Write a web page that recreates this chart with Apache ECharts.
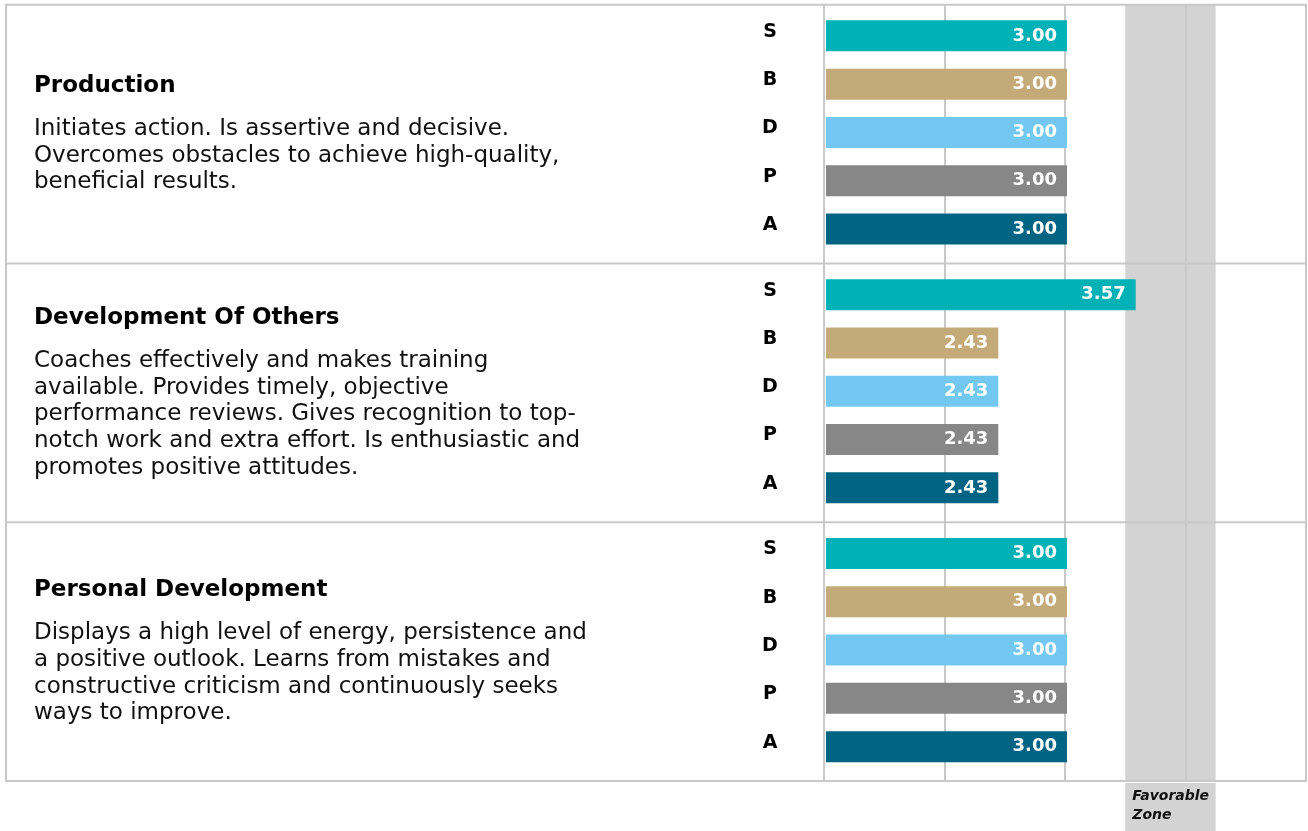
<!DOCTYPE html>
<html>
<head>
    <meta charset="utf-8">
    <title>Competency scores</title>
    <script src="https://cdn.jsdelivr.net/npm/echarts@6/dist/echarts.min.js"></script>
    <style>
        html, body { margin: 0; padding: 0; background: #fff; }
    </style>
</head>
<body>
<div id="main" style="width: 1308px;height:831px;"></div>

<script type="text/javascript">
    // values
    var categories = ['S', 'B', 'D', 'P', 'A'];
    var barColors = ['#00b1b5', '#c4aa78', '#72c8f1', '#878787', '#006482'];
    var productionScores = [3.00, 3.00, 3.00, 3.00, 3.00];
    var developmentOfOthersScores = [3.57, 2.43, 2.43, 2.43, 2.43];
    var personalDevelopmentScores = [3.00, 3.00, 3.00, 3.00, 3.00];
    var sectionScores = [productionScores, developmentOfOthersScores, personalDevelopmentScores];

    var sectionTitles = ['Production', 'Development Of Others', 'Personal Development'];
    var sectionTexts = [
        ['Initiates action. Is assertive and decisive.',
         'Overcomes obstacles to achieve high-quality,',
         'beneficial results.'],
        ['Coaches effectively and makes training',
         'available. Provides timely, objective',
         'performance reviews. Gives recognition to top-',
         'notch work and extra effort. Is enthusiastic and',
         'promotes positive attitudes.'],
        ['Displays a high level of energy, persistence and',
         'a positive outlook. Learns from mistakes and',
         'constructive criticism and continuously seeks',
         'ways to improve.']
    ];

    var scaleMin = 1;
    var scaleMax = 5;
    var scaleStep = 1;
    var favorableZone = [3.5, 4.25];
    var zoneLabel = 'Favorable\nZone';

    // layout
    var boxLeft = 6, boxRight = 1306, boxTop = 4.7;
    var sectionH = 258.8;
    var plotLeft = 824;
    var lineColor = '#c8c8c8';
    var font = 'DejaVu Sans';

    var myChart = echarts.init(document.getElementById('main'));

    // background grid: vertical grid lines + favorable zone across all three sections
    var grids = [{
        left: plotLeft, right: 1308 - boxRight, top: boxTop, height: sectionH * 3
    }];
    var xAxes = [{
        gridIndex: 0, type: 'value', min: scaleMin, max: scaleMax, interval: scaleStep, z: 1.5,
        axisLine: { show: false }, axisTick: { show: false }, axisLabel: { show: false },
        splitLine: { show: true, lineStyle: { color: lineColor, width: 2 } }
    }];
    var yAxes = [{ gridIndex: 0, type: 'value', min: 0, max: 1, show: false }];
    var titles = [];
    var series = [{
        type: 'custom',
        xAxisIndex: 0,
        yAxisIndex: 0,
        z: 1,
        silent: true,
        data: [[favorableZone[0], favorableZone[1]]],
        renderItem: function (params, api) {
            var cs = params.coordSys;
            var x1 = api.coord([api.value(0), 0])[0];
            var x2 = api.coord([api.value(1), 0])[0];
            return {
                type: 'group',
                children: [
                    { type: 'rect', shape: { x: x1, y: cs.y, width: x2 - x1, height: cs.height },
                      style: { fill: '#d3d3d3' } },
                    { type: 'rect', shape: { x: x1, y: cs.y + cs.height + 2, width: x2 - x1, height: 48 },
                      style: { fill: '#d3d3d3' } },
                    { type: 'text', x: x1 + 7, y: cs.y + cs.height + 6,
                      style: { text: zoneLabel, fill: '#111', font: 'italic bold 14px "' + font + '"',
                               lineHeight: 19, verticalAlign: 'top' } }
                ]
            };
        }
    }];

    var borderLines = [{
        type: 'rect', z: 10, silent: true,
        shape: { x: boxLeft, y: boxTop, width: boxRight - boxLeft, height: sectionH * 3 },
        style: { fill: 'none', stroke: lineColor, lineWidth: 2 }
    }];

    for (var i = 0; i < 3; i++) {
        var sectionTop = boxTop + i * sectionH;
        if (i > 0) {
            borderLines.push({
                type: 'line', z: 10, silent: true,
                shape: { x1: boxLeft, y1: sectionTop, x2: boxRight, y2: sectionTop },
                style: { stroke: lineColor, lineWidth: 2 }
            });
        }
        grids.push({ left: plotLeft + 2, right: 0, top: sectionTop + 7, height: 241.5 });
        xAxes.push({
            gridIndex: i + 1, type: 'value', min: scaleMin, max: scaleMax, interval: scaleStep,
            show: false, splitLine: { show: false }
        });
        yAxes.push({
            gridIndex: i + 1, type: 'category', data: categories, inverse: true,
            axisLine: { show: false }, axisTick: { show: false }, splitLine: { show: false },
            axisLabel: {
                color: '#000', fontWeight: 'bold', fontSize: 19, fontFamily: font,
                align: 'center', margin: 56, verticalAlign: 'bottom', lineHeight: 8
            }
        });
        series.push({
            type: 'bar',
            xAxisIndex: i + 1,
            yAxisIndex: i + 1,
            barWidth: 31,
            data: sectionScores[i].map(function (v, k) {
                return { value: v, itemStyle: { color: barColors[k] } };
            }),
            label: {
                show: true, position: 'insideRight', distance: 10,
                color: '#fff', fontWeight: 'bold', fontSize: 18, fontFamily: font,
                formatter: function (p) { return p.value.toFixed(2); }
            }
        });

        var lines = sectionTexts[i];
        var blockH = 26 + 17 + lines.length * 26.7;
        titles.push({
            text: sectionTitles[i],
            subtext: lines.join('\n'),
            left: 34,
            top: sectionTop + sectionH / 2 - blockH / 2,
            padding: 0,
            itemGap: 17,
            textStyle: { color: '#000', fontWeight: 'bold', fontSize: 23, fontFamily: font, lineHeight: 26 },
            subtextStyle: { color: '#111', fontSize: 23, fontFamily: font, lineHeight: 26.7 }
        });
    }

    var option = {
        animation: false,
        title: titles,
        grid: grids,
        xAxis: xAxes,
        yAxis: yAxes,
        series: series,
        graphic: { elements: borderLines }
    };

    myChart.setOption(option);
</script>
</body>
</html>
